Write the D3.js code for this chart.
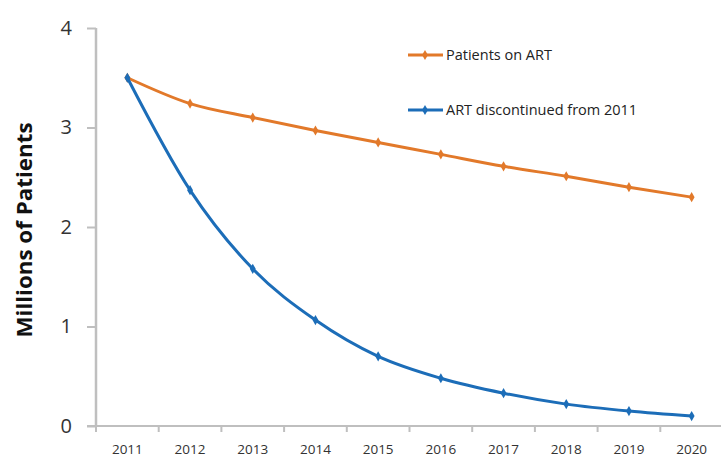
<!DOCTYPE html>
<html><head><meta charset="utf-8">
<script src="https://cdn.jsdelivr.net/npm/d3@7"></script>
<style>body{margin:0;background:#fff}svg{display:block}</style>
</head><body>
<script>
const years = ["2011","2012","2013","2014","2015","2016","2017","2018","2019","2020"];
const onART = [3.5,3.24,3.10,2.97,2.85,2.73,2.61,2.51,2.40,2.30];
const discontinued = [3.5,2.37,1.58,1.065,0.70,0.48,0.33,0.22,0.15,0.10];
const yTicks = [0,1,2,3,4];
const seriesNames = ["Patients on ART","ART discontinued from 2011"];
const colors = ["#E2792A","#1C6DB8"];

const W=721,H=459;
const svg=d3.select("body").append("svg").attr("width",W).attr("height",H);
const x=d3.scaleBand().domain(years).range([96,723]);
const y=d3.scaleLinear().domain([0,4]).range([426,28]);

// axes
const yAx=svg.append("g").attr("transform","translate(96,0)")
  .call(d3.axisLeft(y).tickValues(yTicks).tickSize(9).tickFormat(d3.format("d")));
yAx.select(".domain").attr("stroke","#bfbfbf").attr("stroke-width",2.5).attr("d","M0,28V426");
yAx.selectAll(".tick line").attr("stroke","#bfbfbf").attr("stroke-width",2);
yAx.selectAll(".tick text").attr("x",-24).attr("font-family","Open Sans, sans-serif").attr("font-size",20).attr("fill","#333");

const xAx=svg.append("g").attr("transform","translate(0,426)")
  .call(d3.axisBottom(x).tickSize(0));
xAx.select(".domain").attr("stroke","#bfbfbf").attr("stroke-width",2).attr("d","M87,0H721");
xAx.selectAll(".tick text").attr("y",28).attr("dy",0).attr("font-family","Open Sans, sans-serif").attr("font-size",13.5).attr("fill","#333");
// tick marks at band boundaries
xAx.selectAll(".bt").data(years).enter().append("line")
  .attr("x1",d=>x(d)).attr("x2",d=>x(d)).attr("y1",0).attr("y2",6)
  .attr("stroke","#bfbfbf").attr("stroke-width",2);

svg.append("text").attr("transform","translate(32,230) rotate(-90)")
  .attr("text-anchor","middle").attr("font-family","Open Sans, sans-serif")
  .attr("font-weight","bold").attr("font-size",22).attr("fill","#111")
  .attr("textLength",215).attr("lengthAdjust","spacingAndGlyphs")
  .text("Millions of Patients");

const cx=d=>x(d)+x.bandwidth()/2;
const line=d3.line().x(d=>cx(d.year)).y(d=>y(d.v)).curve(d3.curveMonotoneX);
[onART,discontinued].forEach((vals,i)=>{
  const data=years.map((yr,j)=>({year:yr,v:vals[j]}));
  svg.append("path").datum(data).attr("d",line).attr("fill","none")
    .attr("stroke",colors[i]).attr("stroke-width",3);
  svg.selectAll(".m"+i).data(data).enter().append("path")
    .attr("transform",d=>`translate(${cx(d.year)},${y(d.v)})`)
    .attr("d",d3.symbol(d3.symbolDiamond,30)).attr("fill",colors[i]);
});

// legend
seriesNames.forEach((n,i)=>{
  const ly=[55,110][i];
  svg.append("line").attr("x1",408).attr("x2",443).attr("y1",ly).attr("y2",ly)
    .attr("stroke",colors[i]).attr("stroke-width",3);
  svg.append("path").attr("transform",`translate(425,${ly})`)
    .attr("d",d3.symbol(d3.symbolDiamond,30)).attr("fill",colors[i]);
  svg.append("text").attr("x",446).attr("y",ly+5).attr("font-family","Open Sans, sans-serif")
    .attr("font-size",14.5).attr("fill","#222").text(n);
});
</script>
</body></html>
